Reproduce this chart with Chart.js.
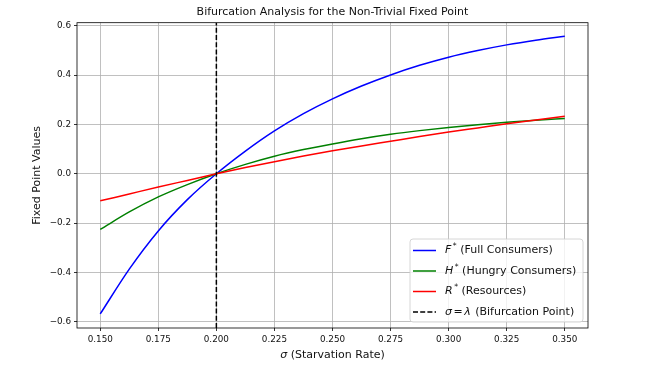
<!DOCTYPE html>
<html>
<head>
<meta charset="utf-8">
<script src="https://cdn.jsdelivr.net/npm/chart.js@4.4.1/dist/chart.umd.min.js"></script>
<style>
    html, body { margin: 0; padding: 0; background: #fff; }
    #cadre { width: 646px; height: 372px; }
</style>
</head>
<body>
<div id="cadre"><canvas id="graphique" width="646" height="372"></canvas></div>
<script>
// valeurs (sigma = taux de famine)
const sigma = [0.15, 0.1625, 0.175, 0.1875, 0.2, 0.2125, 0.225, 0.2375, 0.25,
               0.2625, 0.275, 0.2875, 0.3, 0.3125, 0.325, 0.3375, 0.35];
const fullConsumers = [-0.569, -0.387, -0.232, -0.105, 0.0, 0.092, 0.174, 0.244, 0.304,
                       0.356, 0.401, 0.440, 0.473, 0.500, 0.523, 0.542, 0.558];
const hungryConsumers = [-0.226, -0.155, -0.094, -0.044, 0.0, 0.038, 0.071, 0.098, 0.121,
                         0.142, 0.160, 0.175, 0.188, 0.199, 0.209, 0.217, 0.224];
const resources = [-0.110, -0.082, -0.054, -0.027, 0.0, 0.025, 0.049, 0.072, 0.093,
                   0.113, 0.132, 0.151, 0.169, 0.186, 0.203, 0.218, 0.233];
const lambdaValue = 0.2;

const titre = 'Bifurcation Analysis for the Non-Trivial Fixed Point';
const seriesSymbols = ['F', 'H', 'R'];
const seriesNames = ['(Full Consumers)', '(Hungry Consumers)', '(Resources)'];
const bifurcationName = '(Bifurcation Point)';

const xTicks = [0.150, 0.175, 0.200, 0.225, 0.250, 0.275, 0.300, 0.325, 0.350];
const yTicks = [-0.6, -0.4, -0.2, 0.0, 0.2, 0.4, 0.6];
const xMin = 0.14, xMax = 0.36;
const yMin = -0.626, yMax = 0.613;

const POLICE = '"DejaVu Sans", sans-serif';
const TEXTE = '#111';
const couleurs = ['#0000ff', '#008000', '#ff0000'];

function points(valeurs) {
    return sigma.map((s, i) => ({ x: s, y: valeurs[i] }));
}

const series = [fullConsumers, hungryConsumers, resources];
const datasets = series.map((valeurs, i) => ({
    label: seriesSymbols[i] + '* ' + seriesNames[i],
    data: points(valeurs),
    borderColor: couleurs[i],
    borderWidth: 1.5,
    cubicInterpolationMode: 'monotone',
    pointRadius: 0,
    fill: false,
    order: 3 - i
}));
datasets.push({
    label: 'σ = λ ' + bifurcationName,
    data: [{ x: lambdaValue, y: yMin }, { x: lambdaValue, y: yMax }],
    borderColor: '#000',
    borderWidth: 1.5,
    borderDash: [5, 2.2],
    pointRadius: 0,
    fill: false,
    order: 0
});

// petit bout de texte "math" : lettre italique + exposant etoile
function dessinerSymbole(ctx, x, y, sym, taille) {
    ctx.font = 'oblique ' + taille + 'px ' + POLICE;
    ctx.fillText(sym, x, y);
    x += ctx.measureText(sym).width + 1.5;
    ctx.font = (taille * 0.7) + 'px ' + POLICE;
    ctx.fillText('*', x, y - taille * 0.38);
    x += ctx.measureText('*').width;
    return x;
}

function dessinerSigmaLambda(ctx, x, y, taille) {
    ctx.font = 'oblique ' + taille + 'px ' + POLICE;
    ctx.fillText('σ', x, y);
    x += ctx.measureText('σ').width + 1.5;
    ctx.font = taille + 'px ' + POLICE;
    ctx.fillText('=', x, y);
    x += ctx.measureText('=').width + 1.5;
    ctx.font = 'oblique ' + taille + 'px ' + POLICE;
    ctx.fillText('λ', x, y);
    x += ctx.measureText('λ').width;
    return x;
}

const habillage = {
    id: 'habillage',
    afterDatasetsDraw(chart) {
        const { ctx, chartArea: a } = chart;
        ctx.save();
        ctx.strokeStyle = '#000';
        ctx.lineWidth = 0.8;
        ctx.strokeRect(a.left, a.top, a.right - a.left, a.bottom - a.top);
        ctx.restore();
    },
    afterDraw(chart) {
        const { ctx, chartArea: a } = chart;
        const taille = 11;
        const milieu = (a.left + a.right) / 2;
        ctx.save();
        ctx.fillStyle = TEXTE;
        ctx.textBaseline = 'middle';

        // titre centre sur la zone du graphique
        ctx.font = taille + 'px ' + POLICE;
        ctx.textAlign = 'center';
        ctx.fillText(titre, milieu, 12.5);
        ctx.textAlign = 'left';

        // titre de l'axe x avec sigma en italique
        const reste = ' (Starvation Rate)';
        const wReste = ctx.measureText(reste).width;
        ctx.font = 'oblique ' + taille + 'px ' + POLICE;
        const wSigma = ctx.measureText('σ').width;
        let x = milieu - (wReste + wSigma) / 2;
        ctx.fillText('σ', x, 355);
        ctx.font = taille + 'px ' + POLICE;
        ctx.fillText(reste, x + wSigma, 355);

        // legende en bas a droite
        const w = 173, h = 83;
        const x0 = a.right - 5 - w, y0 = a.bottom - 6 - h;
        ctx.beginPath();
        ctx.roundRect(x0, y0, w, h, 3);
        ctx.fillStyle = 'rgba(255,255,255,0.8)';
        ctx.fill();
        ctx.strokeStyle = '#cccccc';
        ctx.lineWidth = 0.8;
        ctx.stroke();

        chart.data.datasets.forEach((ds, i) => {
            const y = y0 + 11.5 + i * 20.5;
            ctx.beginPath();
            ctx.strokeStyle = ds.borderColor;
            ctx.lineWidth = ds.borderWidth;
            ctx.setLineDash(ds.borderDash || []);
            ctx.moveTo(x0 + 3, y);
            ctx.lineTo(x0 + 26, y);
            ctx.stroke();
            ctx.setLineDash([]);

            ctx.fillStyle = TEXTE;
            let xt = x0 + 35;
            if (i < seriesSymbols.length) {
                xt = dessinerSymbole(ctx, xt, y, seriesSymbols[i], taille);
                ctx.font = taille + 'px ' + POLICE;
                ctx.fillText(' ' + seriesNames[i], xt, y);
            } else {
                xt = dessinerSigmaLambda(ctx, xt, y, taille);
                ctx.font = taille + 'px ' + POLICE;
                ctx.fillText(' ' + bifurcationName, xt + 1, y);
            }
        });
        ctx.restore();
    }
};

const ctx = document.getElementById('graphique').getContext('2d');
new Chart(ctx, {
    type: 'line',
    data: { datasets: datasets },
    plugins: [habillage],
    options: {
        responsive: false,
        animation: false,
        devicePixelRatio: 1,
        layout: { padding: { left: 0, right: 58, top: 22.7, bottom: 0 } },
        plugins: {
            legend: { display: false },
            tooltip: { enabled: false },
            title: { display: false }
        },
        scales: {
            x: {
                type: 'linear',
                min: xMin,
                max: xMax,
                afterBuildTicks: s => { s.ticks = xTicks.map(v => ({ value: v })); },
                afterFit: s => { s.height = 44; },
                ticks: {
                    callback: v => v.toFixed(3),
                    color: TEXTE,
                    font: { family: POLICE, size: 8.8 },
                    padding: 3,
                    maxRotation: 0,
                    autoSkip: false
                },
                grid: { color: '#b0b0b0', lineWidth: 0.8, tickLength: 3, tickColor: '#000', tickWidth: 0.8 },
                border: { display: false }
            },
            y: {
                min: yMin,
                max: yMax,
                afterBuildTicks: s => { s.ticks = yTicks.map(v => ({ value: v })); },
                afterFit: s => { s.width = 77; },
                ticks: {
                    callback: v => (v < -1e-9 ? '\u2212' : '') + Math.abs(v).toFixed(1),
                    color: TEXTE,
                    font: { family: POLICE, size: 8.8 },
                    padding: 3,
                    autoSkip: false
                },
                grid: { color: '#b0b0b0', lineWidth: 0.8, tickLength: 3, tickColor: '#000', tickWidth: 0.8 },
                border: { display: false },
                title: {
                    display: true,
                    text: 'Fixed Point Values',
                    color: TEXTE,
                    font: { family: POLICE, size: 11 },
                    padding: { top: 30.4, bottom: 0 }
                }
            }
        }
    }
});
</script>
</body>
</html>
